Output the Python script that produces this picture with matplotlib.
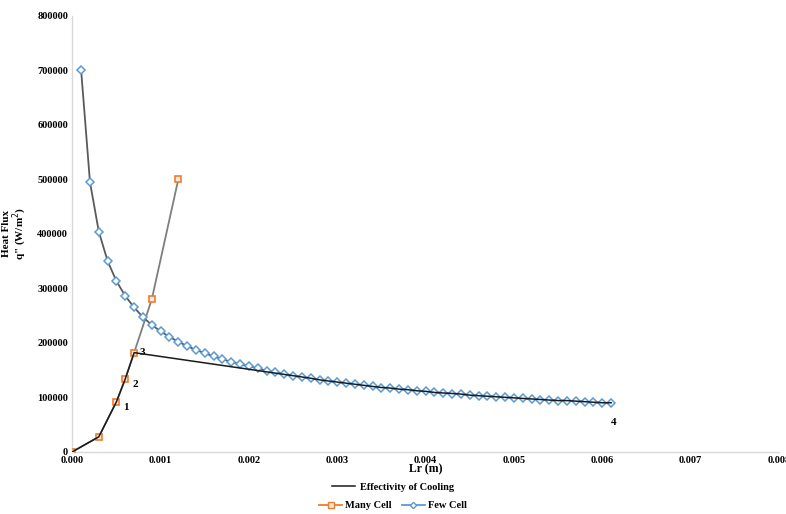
import matplotlib.pyplot as plt
from matplotlib.lines import Line2D

plt.rcParams['font.family'] = ['Liberation Serif', 'DejaVu Serif']

# Few Cell series
few_x = [0.0001, 0.0002, 0.0003, 0.0004, 0.0005, 0.0006, 0.0007, 0.0008, 0.0009, 0.0010,
         0.0011, 0.0012, 0.0013, 0.0014, 0.0015, 0.0016, 0.0017, 0.0018, 0.0019, 0.0020,
         0.0021, 0.0022, 0.0023, 0.0024, 0.0025, 0.0026, 0.0027, 0.0028, 0.0029, 0.0030,
         0.0031, 0.0032, 0.0033, 0.0034, 0.0035, 0.0036, 0.0037, 0.0038, 0.0039, 0.0040,
         0.0041, 0.0042, 0.0043, 0.0044, 0.0045, 0.0046, 0.0047, 0.0048, 0.0049, 0.0050,
         0.0051, 0.0052, 0.0053, 0.0054, 0.0055, 0.0056, 0.0057, 0.0058, 0.0059, 0.0060,
         0.0061]
few_q = [700000, 495000, 404000, 350000, 313000, 286000, 265000, 247000, 233000, 221000,
         211000, 202000, 194000, 187000, 181000, 175000, 170000, 165000, 161000, 157000,
         153000, 149000, 146000, 143000, 140000, 137000, 135000, 132000, 130000, 128000,
         126000, 124000, 122000, 120000, 118000, 117000, 115000, 114000, 112000, 111000,
         109000, 108000, 107000, 106000, 104000, 103000, 102000, 101000, 100000, 99000,
         98000, 97000, 96000, 95000, 94000, 94000, 93000, 92000, 91000, 90000,
         90000]

# Many Cell series
many_x = [0.0, 0.0003, 0.0005, 0.0006, 0.0007, 0.0009, 0.0012]
many_q = [0, 27500, 92000, 134000, 182000, 280000, 500000]

# Effectivity of cooling path: along Many Cell to point 3, then across to Few Cell
eff_x = [0.0, 0.0003, 0.0005, 0.0006, 0.0007] + few_x[26:]
eff_q = [0, 27500, 92000, 134000, 182000] + few_q[26:]

# labelled points
lab_txt = ['1', '2', '3', '4']
lab_x = [0.0005, 0.0006, 0.0007, 0.0061]
lab_q = [92000, 134000, 182000, 90000]

orange = '#ED7D31'
blue = '#5B9BD5'

fig, ax = plt.subplots(figsize=(7.86, 5.14), dpi=100)
fig.subplots_adjust(left=0.092, right=0.991, bottom=0.121, top=0.969)

ax.plot(many_x, many_q, color='#7f7f7f', lw=1.3, marker='s', ms=5,
        mfc='#fde9d9', mec=orange, mew=1.2, zorder=3)
ax.plot(few_x, few_q, color='#5a5a5a', lw=1.3, marker='D', ms=3.8,
        mfc='white', mec=blue, mew=1.1, zorder=3)
ax.plot(eff_x, eff_q, color='#1a1a1a', lw=1.1, zorder=4)

offs = [(5, -6), (5, -6), (4, -2), (0, -16)]
for t, x, q, o in zip(lab_txt, lab_x, lab_q, offs):
    ax.annotate(t, (x, q), xytext=o, textcoords='offset points',
                fontsize=8, fontweight='bold')

ax.set_xlim(0, 0.008)
ax.set_ylim(0, 800000)
ax.set_xticks([i * 0.001 for i in range(9)])
ax.set_xticklabels(['%.3f' % (i * 0.001) for i in range(9)])
ax.set_yticks(range(0, 800001, 100000))
ax.tick_params(length=0, labelsize=7.5, pad=3)
for lbl in ax.get_xticklabels() + ax.get_yticklabels():
    lbl.set_fontweight('bold')

for s in ['top', 'right']:
    ax.spines[s].set_visible(False)
for s in ['left', 'bottom']:
    ax.spines[s].set_color('#d9d9d9')
    ax.spines[s].set_linewidth(1.0)

ax.set_xlabel('Lr (m)', fontsize=8.5, fontweight='bold', labelpad=-1)
ax.set_ylabel('Heat Flux\nq" (W/m$^2$)', fontsize=8, fontweight='bold', labelpad=6,
              linespacing=1.0)

h1 = [Line2D([], [], color='#1a1a1a', lw=1.1)]
fig.legend(h1, ['Effectivity of Cooling'], loc='center', bbox_to_anchor=(0.5, 0.052),
           frameon=False, prop={'size': 7.5, 'weight': 'bold'}, handlelength=2.2,
           borderpad=0, handletextpad=0.5)
h2 = [Line2D([], [], color=orange, lw=1.3, marker='s', ms=4.5, mfc='#fde9d9', mec=orange),
      Line2D([], [], color=blue, lw=1.3, marker='D', ms=3.2, mfc='white', mec=blue)]
fig.legend(h2, ['Many Cell', 'Few Cell'], loc='center', bbox_to_anchor=(0.5, 0.016),
           ncol=2, frameon=False, prop={'size': 7.5, 'weight': 'bold'},
           handlelength=2.2, columnspacing=1.0, handletextpad=0.3, borderpad=0)

fig.savefig('out.png', dpi=100)
